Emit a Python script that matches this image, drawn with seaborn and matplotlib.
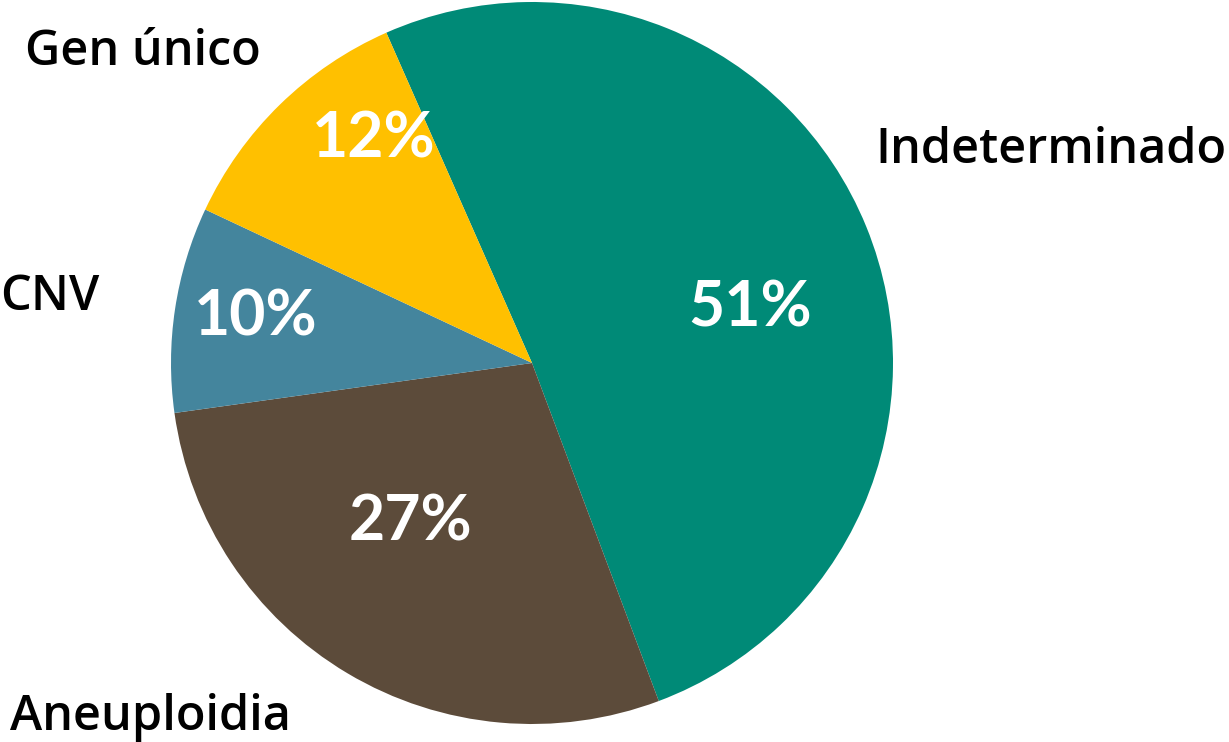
import matplotlib
matplotlib.use("Agg")
import matplotlib.pyplot as plt
import seaborn as sns

# slice data, clockwise from the yellow/teal boundary
categories = ["Indeterminado", "Aneuploidia", "CNV", "Gen único"]
shares = [50.9, 28.5, 9.2, 11.4]
pct_labels = ["51%", "27%", "10%", "12%"]
colors = ["#008a77", "#5c4b3a", "#44859d", "#ffc000"]

# label placement (data units, pie radius = 1)
pct_pos = [(0.604, 0.152), (-0.338, -0.443), (-0.765, 0.125), (-0.438, 0.618)]
name_pos = [(1.925, 0.554), (-1.446, -1.017), (-1.473, 0.147), (-1.404, 0.826)]
name_ha = ["right", "left", "left", "left"]

sns.set_theme(style="white")
plt.rcParams["font.family"] = ["Open Sans", "DejaVu Sans"]

fig = plt.figure(figsize=(12.29, 7.42), dpi=100)
ax = fig.add_axes([0, 0, 1, 1])

ax.pie(shares, colors=colors, startangle=113.8, counterclock=False,
       radius=1.0, wedgeprops=dict(linewidth=0))

for (x, y), txt in zip(pct_pos, pct_labels):
    ax.text(x, y, txt, color="white", fontsize=45, fontweight="bold",
            family=["Lato", "DejaVu Sans"], ha="center", va="center")

for (x, y), name, ha in zip(name_pos, categories, name_ha):
    ax.text(x, y, name, color="black", fontsize=35, fontweight="semibold",
            ha=ha, va="baseline")

ax.set_aspect("auto")
ax.set_xlim(-532 / 361, (1229 - 532) / 361)
ax.set_ylim(-(742 - 363) / 361, 363 / 361)
ax.axis("off")

fig.savefig("out.png", dpi=100)
